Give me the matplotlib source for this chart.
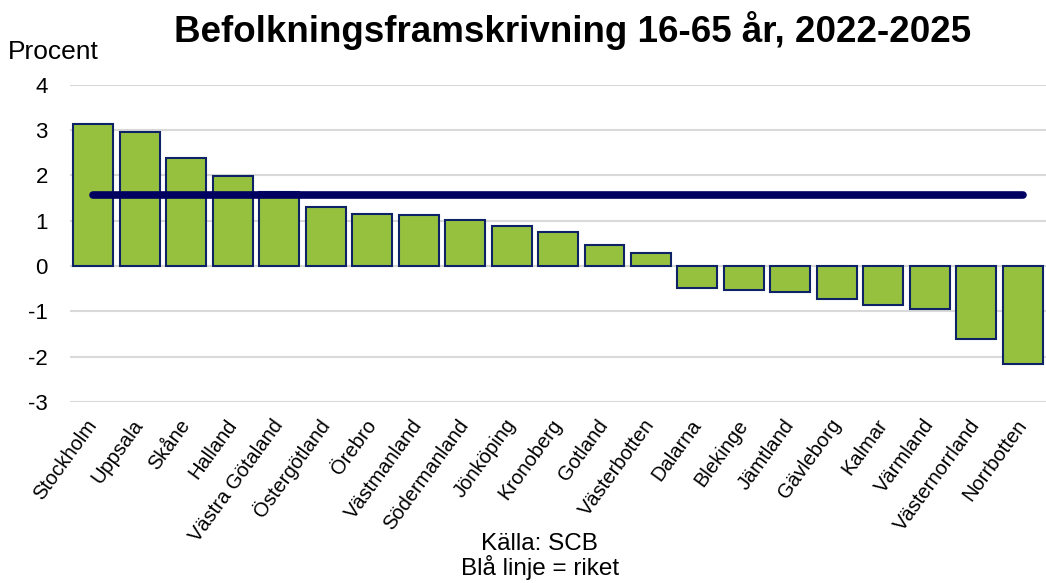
import matplotlib.pyplot as plt
import numpy as np

plt.rcParams['font.family'] = ['Liberation Sans', 'DejaVu Sans']
plt.rcParams['axes.unicode_minus'] = False

regions = ['Stockholm', 'Uppsala', 'Skåne', 'Halland', 'Västra Götaland', 'Östergötland',
           'Örebro', 'Västmanland', 'Södermanland', 'Jönköping', 'Kronoberg', 'Gotland',
           'Västerbotten', 'Dalarna', 'Blekinge', 'Jämtland', 'Gävleborg', 'Kalmar',
           'Värmland', 'Västernorrland', 'Norrbotten']
change = [3.14, 2.95, 2.37, 1.98, 1.63, 1.31, 1.15, 1.12, 1.01, 0.89, 0.75, 0.46,
          0.29, -0.48, -0.53, -0.58, -0.73, -0.87, -0.95, -1.61, -2.16]
riket = 1.56

fig = plt.figure(figsize=(10.46, 5.83), dpi=100)
ax = fig.add_axes([0.067, 0.3105, 0.933, 0.5445])

x = np.arange(len(regions))
ax.bar(x, change, width=0.86, color='#96c13f', edgecolor='#0d2366', linewidth=1.5, zorder=2)
ax.plot([x[0], x[-1]], [riket, riket], color='#000060', linewidth=5.5,
        solid_capstyle='round', zorder=3)

ax.set_xlim(-0.5, len(regions) - 0.5)
ax.set_ylim(-3, 4)
ax.set_yticks(range(-3, 5))
ax.grid(axis='y', color='#d9d9d9', linewidth=1.5, zorder=0)
for s in ax.spines.values():
    s.set_visible(False)
ax.tick_params(axis='y', length=0, pad=16, labelsize=16)
ax.tick_params(axis='x', length=0, pad=14)
ax.set_xticks(x)
ax.set_xticklabels(regions, rotation=54, ha='right', va='center', rotation_mode='anchor', fontsize=14.5)

fig.text(0.547, 0.948, 'Befolkningsframskrivning 16-65 år, 2022-2025', ha='center', va='center',
         fontsize=26.5, fontweight='bold')
fig.text(0.008, 0.91, 'Procent', ha='left', va='center', fontsize=19)
fig.text(0.516, 0.0566, 'Källa: SCB', ha='center', va='baseline', fontsize=17.5)
fig.text(0.516, 0.0137, 'Blå linje = riket', ha='center', va='baseline', fontsize=17.5)

fig.savefig('out.png', dpi=100)
